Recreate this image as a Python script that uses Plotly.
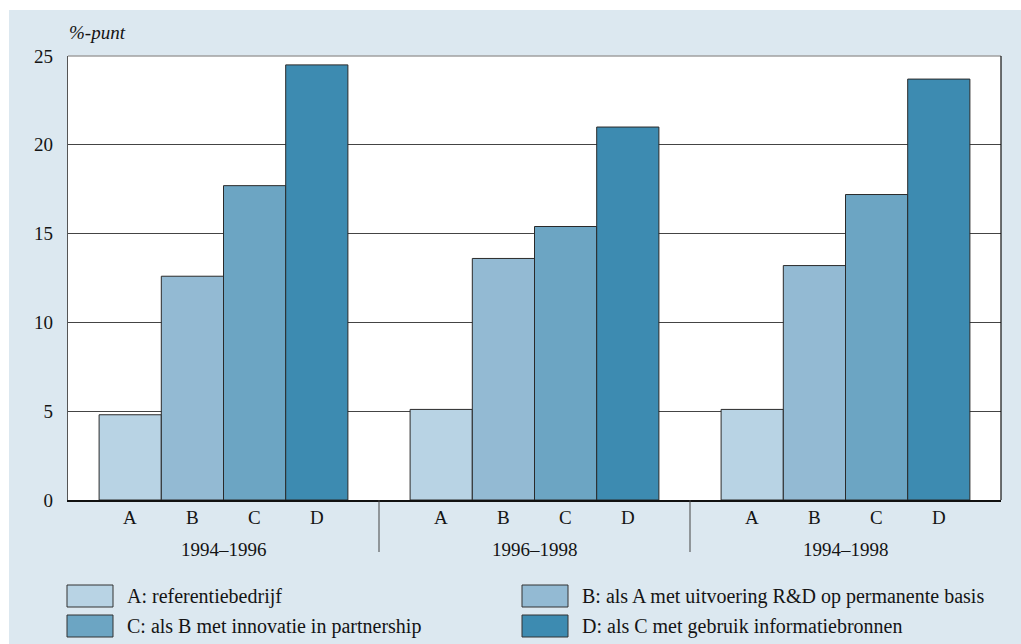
import plotly.graph_objects as go

# ---- data ----
periods = ["1994–1996", "1996–1998", "1994–1998"]
series_letters = ["A", "B", "C", "D"]
series_names = [
    "A: referentiebedrijf",
    "B: als A met uitvoering R&D op permanente basis",
    "C: als B met innovatie in partnership",
    "D: als C met gebruik informatiebronnen",
]
values_A = [4.8, 5.1, 5.1]
values_B = [12.6, 13.6, 13.2]
values_C = [17.7, 15.4, 17.2]
values_D = [24.5, 21.0, 23.7]
y_ticks = [0, 5, 10, 15, 20, 25]
y_title = "%-punt"

series_values = [values_A, values_B, values_C, values_D]
colors = ["#b8d3e4", "#93bad3", "#6ca5c3", "#3d8bb1"]

W, H = 1021, 644
ML, MR, MT, MB = 68, 20, 56, 144
PW, PH = W - ML - MR, H - MT - MB
FONT = "Liberation Serif"
BG = "#dce8f0"
TXT = "#141414"


def px_x(px):
    return (px - ML) / PW


def px_y(py):
    return (H - MB - py) / PH


fig = go.Figure()
for name, vals, col in zip(series_names, series_values, colors):
    fig.add_trace(go.Bar(
        x=periods, y=vals, name=name,
        marker=dict(color=col, line=dict(color="#2a2a2a", width=1)),
        showlegend=False,
    ))

shapes = []
annotations = []

# white strips outside the blue frame
shapes.append(dict(type="rect", xref="paper", yref="paper", layer="below",
                   x0=px_x(-5), x1=px_x(9), y0=px_y(H + 5), y1=px_y(-5),
                   fillcolor="white", line=dict(width=0)))
shapes.append(dict(type="rect", xref="paper", yref="paper", layer="below",
                   x0=px_x(-5), x1=px_x(W + 5), y0=px_y(10), y1=px_y(-5),
                   fillcolor="white", line=dict(width=0)))

# top and right borders
shapes.append(dict(type="line", xref="paper", yref="paper", x0=0, x1=1, y0=1, y1=1,
                   line=dict(color="#a0a0a0", width=1.5)))
shapes.append(dict(type="line", xref="paper", yref="paper", x0=1, x1=1, y0=0, y1=1,
                   line=dict(color="#111111", width=1.2)))

# group dividers below axis
for i in range(len(periods) - 1):
    shapes.append(dict(type="line", xref="x", yref="paper", x0=i + 0.5, x1=i + 0.5,
                       y0=0, y1=px_y(552), line=dict(color="#444444", width=1)))

# letter labels and period labels
n = len(series_letters)
group_w = 0.8
bw = group_w / n
for gi, per in enumerate(periods):
    for si, let in enumerate(series_letters):
        xc = gi - group_w / 2 + bw * (si + 0.5)
        annotations.append(dict(x=xc, y=px_y(517), xref="x", yref="paper", text=let,
                                showarrow=False, font=dict(size=19, color=TXT, family=FONT),
                                xanchor="center", yanchor="middle"))
    annotations.append(dict(x=gi, y=px_y(549), xref="x", yref="paper", text=per,
                            showarrow=False, font=dict(size=19, color=TXT, family=FONT),
                            xanchor="center", yanchor="middle"))

# y axis title
annotations.append(dict(x=px_x(67), y=px_y(32), xref="paper", yref="paper",
                        text="<i>" + y_title + "</i>", showarrow=False,
                        font=dict(size=19, color=TXT, family=FONT),
                        xanchor="left", yanchor="middle"))

# manual legend
leg_pos = [(67, 596), (522, 596), (67, 626), (522, 626)]
for (lx, ly), name, col in zip(leg_pos, series_names, colors):
    shapes.append(dict(type="rect", xref="paper", yref="paper",
                       x0=px_x(lx), x1=px_x(lx + 46), y0=px_y(ly + 11), y1=px_y(ly - 11),
                       fillcolor=col, line=dict(color="#333333", width=1)))
    annotations.append(dict(x=px_x(lx + 58), y=px_y(ly), xref="paper", yref="paper",
                            text=name, showarrow=False,
                            font=dict(size=20, color=TXT, family=FONT),
                            xanchor="left", yanchor="middle"))

fig.update_layout(
    width=W, height=H,
    margin=dict(l=ML, r=MR, t=MT, b=MB, pad=0),
    paper_bgcolor=BG, plot_bgcolor="white",
    barmode="group", bargap=0.2, bargroupgap=0,
    font=dict(family=FONT, size=19, color=TXT),
    shapes=shapes, annotations=annotations,
    showlegend=False,
    xaxis=dict(type="category", range=[-0.5, len(periods) - 0.5],
               showticklabels=False, ticks="", showgrid=False,
               showline=True, linecolor="#111111", linewidth=1.5, zeroline=False),
    yaxis=dict(range=[0, 25], tickvals=y_ticks, ticktext=[str(t) for t in y_ticks],
               showgrid=True, gridcolor="#444444", gridwidth=1,
               showline=True, linecolor="#555555", linewidth=1.2,
               ticks="outside", ticklen=10, tickcolor="rgba(0,0,0,0)",
               zeroline=False, tickfont=dict(size=19, family=FONT, color=TXT)),
)

fig.write_html("out.html",
               config={"displayModeBar": False},
               post_script="document.body.style.margin='0px';document.body.style.overflow='hidden';")
